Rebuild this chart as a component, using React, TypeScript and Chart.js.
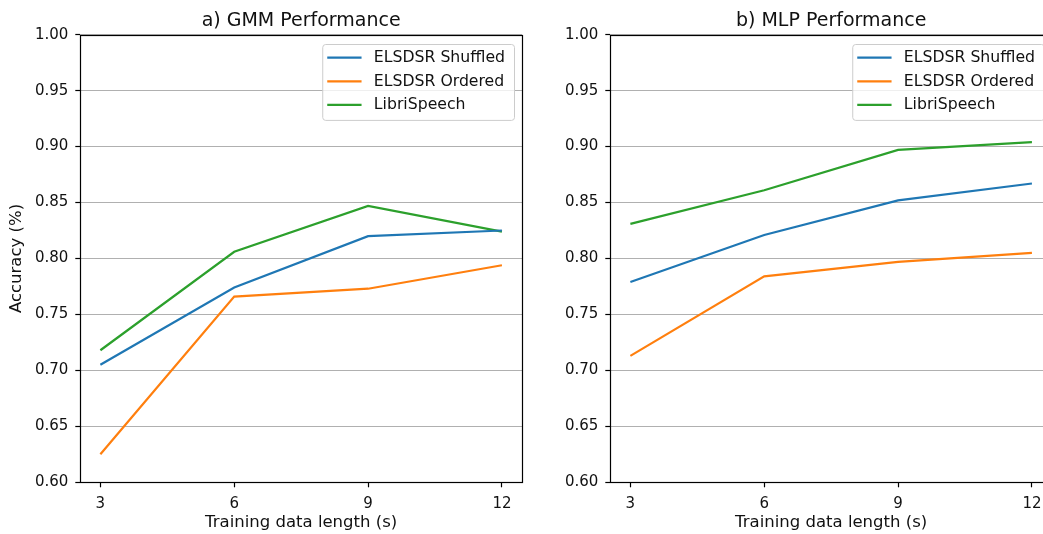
import React, { useEffect, useRef } from "react";
import { Chart, registerables } from "chart.js";

Chart.register(...registerables);

// ---------- data ----------
const xValues = [3, 6, 9, 12];
const xTickValues = [3, 6, 9, 12];
const seriesNames = ["ELSDSR Shuffled", "ELSDSR Ordered", "LibriSpeech"];
const seriesColors = ["#1f77b4", "#ff7f0e", "#2ca02c"];

const gmmShuffled = [0.705, 0.774, 0.82, 0.825];
const gmmOrdered = [0.625, 0.766, 0.773, 0.794];
const gmmLibri = [0.718, 0.806, 0.847, 0.824];

const mlpShuffled = [0.779, 0.821, 0.852, 0.867];
const mlpOrdered = [0.713, 0.784, 0.797, 0.805];
const mlpLibri = [0.831, 0.861, 0.897, 0.904];

const yMin = 0.6;
const yMax = 1.0;
const yStep = 0.05;
const xMin = 2.55;
const xMax = 12.45;

const titles = ["a) GMM Performance", "b) MLP Performance"];
const xAxisTitle = "Training data length (s)";
const yAxisTitle = "Accuracy (%)";

const FONT = "'DejaVu Sans', sans-serif";
const TICK_SIZE = 15;
const LEGEND_SIZE = 15.7;
const LABEL_SIZE = 16.5;
const TITLE_SIZE = 19;
const TEXT_COLOR = "#111";

const framePlugin = {
  id: "frame",
  afterDatasetsDraw(chart: any) {
    const { ctx, chartArea } = chart;
    ctx.save();
    ctx.strokeStyle = "#000";
    ctx.lineWidth = 1.2;
    const l = Math.round(chartArea.left) + 0.5;
    const r = Math.round(chartArea.right) + 0.5;
    const t = Math.round(chartArea.top) + 0.5;
    const b = Math.round(chartArea.bottom) + 0.5;
    ctx.strokeRect(l, t, r - l, b - t);
    ctx.restore();
  },
};

const insideLegendPlugin = {
  id: "insideLegend",
  afterDatasetsDraw(chart: any) {
    const { ctx, chartArea } = chart;
    const ds = chart.data.datasets;
    ctx.save();
    ctx.font = `${LEGEND_SIZE}px ${FONT}`;
    const maxW = Math.max(...ds.map((d: any) => ctx.measureText(d.label).width));
    const padL = 5;
    const handle = 34.3;
    const gap = 12.3;
    const padR = 9;
    const w = padL + handle + gap + maxW + padR;
    const right = chartArea.right - 8;
    const left = right - w;
    const top = chartArea.top + 9.3;
    const first = 13.7;
    const rowH = 23.6;
    const h = first + rowH * (ds.length - 1) + 15;
    ctx.beginPath();
    if ((ctx as any).roundRect) (ctx as any).roundRect(left + 0.5, top + 0.5, w, h, 3);
    else ctx.rect(left + 0.5, top + 0.5, w, h);
    ctx.fillStyle = "rgba(255,255,255,0.8)";
    ctx.fill();
    ctx.strokeStyle = "#cccccc";
    ctx.lineWidth = 1;
    ctx.stroke();
    ds.forEach((d: any, i: number) => {
      const y = top + first + rowH * i;
      ctx.beginPath();
      ctx.strokeStyle = d.borderColor;
      ctx.lineWidth = 2.2;
      ctx.moveTo(left + padL, y);
      ctx.lineTo(left + padL + handle, y);
      ctx.stroke();
      ctx.fillStyle = TEXT_COLOR;
      ctx.textBaseline = "middle";
      ctx.textAlign = "left";
      ctx.fillText(d.label, left + padL + handle + gap, y + 0.5);
    });
    ctx.restore();
  },
};

function makeConfig(title: string, series: number[][], showYTitle: boolean): any {
  return {
    type: "line",
    data: {
      datasets: series.map((vals, i) => ({
        label: seriesNames[i],
        data: vals.map((v, j) => ({ x: xValues[j], y: v })),
        borderColor: seriesColors[i],
        backgroundColor: seriesColors[i],
        borderWidth: 2.2,
        pointRadius: 0,
        tension: 0,
        fill: false,
      })),
    },
    options: {
      responsive: false,
      animation: false,
      devicePixelRatio: 1,
      layout: { padding: { top: 0, right: 8, left: 0, bottom: 0 } },
      plugins: {
        legend: { display: false },
        tooltip: { enabled: false },
        title: {
          display: true,
          text: title,
          fullSize: false,
          align: "center",
          color: TEXT_COLOR,
          font: { family: FONT, size: TITLE_SIZE, weight: "normal", lineHeight: 1.2 },
          padding: { top: 9.3, bottom: 2.6 },
        },
      },
      scales: {
        x: {
          type: "linear",
          min: xMin,
          max: xMax,
          afterFit: (s: any) => {
            s.height = 51.7;
          },
          afterBuildTicks: (s: any) => {
            s.ticks = xTickValues.map((v) => ({ value: v }));
          },
          ticks: {
            color: TEXT_COLOR,
            font: { family: FONT, size: TICK_SIZE },
            padding: 8,
            maxRotation: 0,
            callback: (v: any) => String(v),
          },
          grid: {
            display: true,
            drawOnChartArea: false,
            drawTicks: true,
            tickLength: 5,
            tickColor: "#000",
            tickWidth: 1.2,
            color: "#000",
          },
          border: { display: false },
          title: {
            display: true,
            text: xAxisTitle,
            color: TEXT_COLOR,
            font: { family: FONT, size: LABEL_SIZE, lineHeight: 1.2 },
            padding: { top: 0, bottom: 1 },
          },
        },
        y: {
          type: "linear",
          min: yMin,
          max: yMax,
          afterFit: (s: any) => {
            s.width = 80.3;
          },
          ticks: {
            stepSize: yStep,
            color: TEXT_COLOR,
            font: { family: FONT, size: TICK_SIZE },
            padding: 7,
            callback: (v: any) => Number(v).toFixed(2),
          },
          grid: {
            display: true,
            color: "#b0b0b0",
            lineWidth: 1,
            tickLength: 5,
            tickColor: "#000",
            tickWidth: 1.2,
          },
          border: { display: false },
          title: {
            display: showYTitle,
            text: yAxisTitle,
            color: TEXT_COLOR,
            font: { family: FONT, size: LABEL_SIZE, lineHeight: 1.2 },
            padding: { top: 6.6, bottom: 0 },
          },
        },
      },
    },
    plugins: [framePlugin, insideLegendPlugin],
  };
}

export default function App() {
  const leftRef = useRef<HTMLCanvasElement | null>(null);
  const rightRef = useRef<HTMLCanvasElement | null>(null);

  useEffect(() => {
    Chart.defaults.font.family = FONT;
    const c1 = new Chart(
      leftRef.current as HTMLCanvasElement,
      makeConfig(titles[0], [gmmShuffled, gmmOrdered, gmmLibri], true)
    );
    const c2 = new Chart(
      rightRef.current as HTMLCanvasElement,
      makeConfig(titles[1], [mlpShuffled, mlpOrdered, mlpLibri], false)
    );
    return () => {
      c1.destroy();
      c2.destroy();
    };
  }, []);

  return (
    <div
      style={{
        position: "fixed",
        left: 0,
        top: 0,
        width: 1043,
        height: 534,
        overflow: "hidden",
        background: "#fff",
      }}
    >
      <canvas
        ref={leftRef}
        width={530}
        height={534}
        style={{ position: "absolute", left: 0, top: 0, width: 530, height: 534 }}
      />
      <canvas
        ref={rightRef}
        width={530}
        height={534}
        style={{ position: "absolute", left: 530, top: 0, width: 530, height: 534 }}
      />
    </div>
  );
}
